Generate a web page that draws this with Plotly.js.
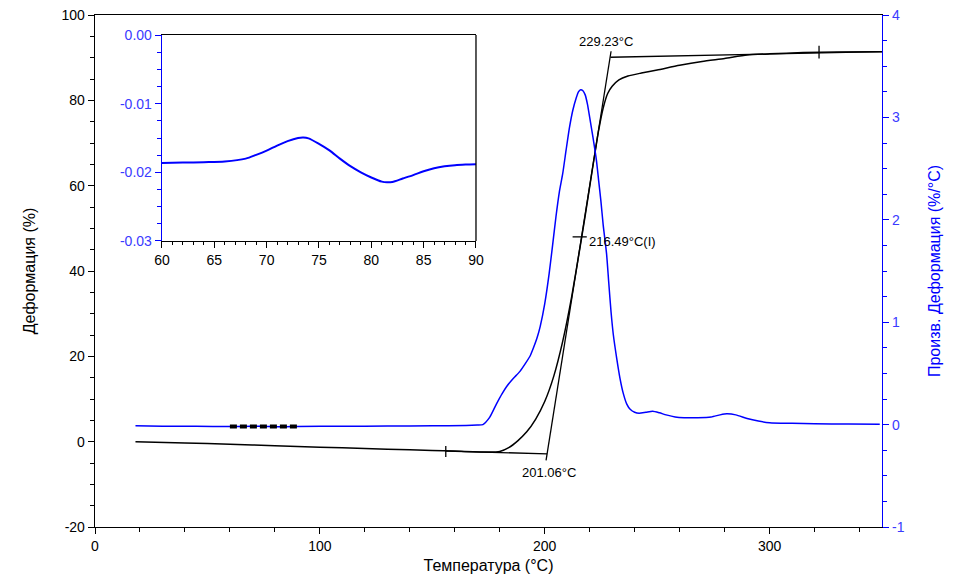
<!DOCTYPE html>
<html><head><meta charset="utf-8">
<script src="https://cdn.plot.ly/plotly-3.0.1.min.js"></script>
<style>html,body{margin:0;padding:0;background:#fff}#chart{width:972px;height:586px}</style>
</head><body><div id="chart"></div>
<script>
// Deformation (%) vs temperature (°C)
const temperature = [18, 40, 60, 80, 100, 120, 140, 160, 175, 180, 184, 188, 192, 196, 200, 204, 208, 212, 216, 218, 220, 222, 224, 226, 228, 230, 233, 237, 243, 250, 260, 270, 280, 290, 300, 315, 330, 350];
const deformation = [0, -0.3, -0.6, -0.95, -1.3, -1.6, -1.9, -2.2, -2.45, -2.3, -1.4, 0.2, 2.3, 5.3, 9.4, 15.3, 23.5, 34, 46.5, 53, 59.8, 66.5, 73, 78.2, 81.6, 83.3, 84.8, 85.7, 86.4, 87.1, 88.2, 89.1, 89.8, 90.6, 90.9, 91.2, 91.3, 91.4];

// Derivative of deformation (%/°C)
const derivTemp = [18, 30, 45, 60, 70, 73, 77, 81, 85, 90, 110, 130, 150, 165, 170, 172.5, 175.5, 178.5, 181, 183, 186, 189, 191.5, 193.5, 195, 196.5, 198, 200, 202, 203.5, 205, 206.5, 208, 209.5, 211, 212.5, 214, 215, 216, 217, 218, 219, 220, 221.5, 223, 224, 225, 226, 227.5, 228.5, 229.5, 230.5, 232, 233.5, 235, 236.5, 238, 240, 242, 245, 248, 251, 254, 258, 262, 268, 274, 278, 281, 285, 290, 295, 300, 310, 320, 335, 349];
const derivative = [-0.012, -0.015, -0.017, -0.0186, -0.0168, -0.015, -0.018, -0.0215, -0.0199, -0.0188, -0.016, -0.014, -0.012, -0.01, -0.005, 0.0, 0.07, 0.2, 0.3, 0.37, 0.45, 0.52, 0.6, 0.67, 0.75, 0.84, 0.96, 1.18, 1.48, 1.75, 2.03, 2.27, 2.45, 2.68, 2.9, 3.07, 3.19, 3.25, 3.27, 3.26, 3.22, 3.13, 3.0, 2.8, 2.58, 2.38, 2.18, 1.95, 1.67, 1.38, 1.1, 0.88, 0.65, 0.45, 0.3, 0.2, 0.15, 0.12, 0.11, 0.12, 0.13, 0.115, 0.095, 0.075, 0.068, 0.068, 0.075, 0.095, 0.105, 0.095, 0.06, 0.035, 0.018, 0.012, 0.008, 0.005, 0.003];

// Inset: derivative zoomed 60–90 °C
const insetTemp = [60, 62, 64, 66, 68, 69, 70, 71, 72, 73, 73.5, 74, 75, 76, 77, 78, 79, 80, 81, 81.5, 82, 83, 84, 85, 86, 87, 88, 89, 90];
const insetDeriv = [-0.01863, -0.01858, -0.01852, -0.01842, -0.0180, -0.01745, -0.01683, -0.0161, -0.01545, -0.01500, -0.01493, -0.01505, -0.01585, -0.0168, -0.0180, -0.0191, -0.0200, -0.02075, -0.02135, -0.02145, -0.0214, -0.0209, -0.0204, -0.01985, -0.0194, -0.01912, -0.01895, -0.01887, -0.01883];

// Onset / inflection / endset construction lines
const baseTangentT = [156, 201.06];
const baseTangentD = [-2.2, -2.85];
const inflTangentT = [200.6, 229.5];
const inflTangentD = [-4.4, 91.5];
const topTangentT = [229.23, 350];
const topTangentD = [90.1, 91.4];
const tickLeftT = [156, 156];
const tickLeftD = [-1.0, -3.6];
const tickRightT = [322, 322];
const tickRightD = [89.8, 92.8];
const crossT = [212.4, 218.7];
const crossD = [48.0, 48.0];

const onsetLabel = "201.06°C";
const inflLabel = "216.49°C(I)";
const endLabel = "229.23°C";

// Tick labels
const xTickVals = [0, 100, 200, 300];
const xTickText = ["0", "100", "200", "300"];
const yTickVals = [-20, 0, 20, 40, 60, 80, 100];
const yTickText = ["-20", "0", "20", "40", "60", "80", "100"];
const y2TickVals = [-1, 0, 1, 2, 3, 4];
const y2TickText = ["-1", "0", "1", "2", "3", "4"];
const x3TickVals = [60, 65, 70, 75, 80, 85, 90];
const x3TickText = ["60", "65", "70", "75", "80", "85", "90"];
const y3TickVals = [0, -0.01, -0.02, -0.03];
const y3TickText = ["0.00", "-0.01", "-0.02", "-0.03"];

const BLUE = '#0000ff';
const BLUE_TXT = '#3a3aff';
const FONT = 'Liberation Sans, Arial, sans-serif';

const blackLine = {color: '#000', width: 1.3};
const traces = [
  {x: derivTemp, y: derivative, xaxis: 'x', yaxis: 'y2', mode: 'lines', line: {color: BLUE, width: 1.5, shape: 'spline', smoothing: 0.6}},
  {x: insetTemp, y: insetDeriv, xaxis: 'x', yaxis: 'y2', mode: 'lines', line: {color: '#000', width: 4, dash: '7px,3px'}},
  {x: temperature, y: deformation, xaxis: 'x', yaxis: 'y', mode: 'lines', line: {color: '#000', width: 1.5, shape: 'spline', smoothing: 0.6}},
  {x: baseTangentT, y: baseTangentD, xaxis: 'x', yaxis: 'y', mode: 'lines', line: blackLine},
  {x: inflTangentT, y: inflTangentD, xaxis: 'x', yaxis: 'y', mode: 'lines', line: blackLine},
  {x: topTangentT, y: topTangentD, xaxis: 'x', yaxis: 'y', mode: 'lines', line: blackLine},
  {x: tickLeftT, y: tickLeftD, xaxis: 'x', yaxis: 'y', mode: 'lines', line: blackLine},
  {x: tickRightT, y: tickRightD, xaxis: 'x', yaxis: 'y', mode: 'lines', line: blackLine},
  {x: crossT, y: crossD, xaxis: 'x', yaxis: 'y', mode: 'lines', line: blackLine},
  {x: insetTemp, y: insetDeriv, xaxis: 'x3', yaxis: 'y3', mode: 'lines', line: {color: BLUE, width: 2, shape: 'spline', smoothing: 0.8}}
];

const layout = {
  width: 972, height: 586,
  margin: {l: 95, r: 90, t: 15, b: 59},
  paper_bgcolor: '#fff', plot_bgcolor: '#fff',
  showlegend: false,
  font: {family: FONT, size: 14, color: '#000'},
  xaxis: {
    domain: [0, 1], range: [0, 350], anchor: 'y',
    tickmode: 'array', tickvals: xTickVals, ticktext: xTickText,
    ticks: 'outside', ticklen: 6, tickcolor: '#000', tickwidth: 1,
    minor: {tickmode: 'linear', tick0: 0, dtick: 20, ticks: 'outside', ticklen: 4, tickcolor: '#000'},
    showline: true, linecolor: '#000', linewidth: 1.3, mirror: true,
    showgrid: false, zeroline: false,
    tickfont: {size: 14, color: '#000'},
    title: {text: 'Температура (°C)', font: {size: 16, color: '#000'}, standoff: 6}
  },
  yaxis: {
    range: [-20, 100], anchor: 'x',
    tickmode: 'array', tickvals: yTickVals, ticktext: yTickText,
    ticks: 'outside', ticklen: 6, tickcolor: '#000',
    minor: {tickmode: 'linear', tick0: 0, dtick: 5, ticks: 'outside', ticklen: 4, tickcolor: '#000'},
    showline: true, linecolor: '#000', linewidth: 1.3,
    showgrid: false, zeroline: false,
    tickfont: {size: 14, color: '#000'},
    title: {text: 'Деформация (%)', font: {size: 16, color: '#000'}, standoff: 22}
  },
  yaxis2: {
    range: [-1, 4], overlaying: 'y', side: 'right', anchor: 'x',
    tickmode: 'array', tickvals: y2TickVals, ticktext: y2TickText,
    ticks: 'outside', ticklen: 6, tickcolor: BLUE,
    minor: {tickmode: 'linear', tick0: 0, dtick: 0.25, ticks: 'outside', ticklen: 4, tickcolor: BLUE},
    showline: true, linecolor: BLUE, linewidth: 1.3,
    showgrid: false, zeroline: false,
    tickfont: {size: 14, color: BLUE_TXT},
    title: {text: 'Произв. Деформация (%/°C)', font: {size: 16, color: BLUE}, standoff: 25}
  },
  xaxis3: {
    domain: [0.0851, 0.4841], range: [60, 90], anchor: 'y3',
    tickmode: 'array', tickvals: x3TickVals, ticktext: x3TickText,
    ticks: 'outside', ticklen: 6, tickcolor: '#000',
    minor: {tickmode: 'linear', tick0: 60, dtick: 1, ticks: 'outside', ticklen: 3, tickcolor: '#000'},
    showline: true, linecolor: '#000', linewidth: 1.3, mirror: true,
    showgrid: false, zeroline: false,
    tickfont: {size: 14, color: '#000'}
  },
  yaxis3: {
    domain: [0.5586, 0.9609], range: [-0.03, 0], anchor: 'x3',
    tickmode: 'array', tickvals: y3TickVals, ticktext: y3TickText,
    ticks: 'outside', ticklen: 6, tickcolor: BLUE,
    minor: {tickmode: 'linear', tick0: 0, dtick: 0.0025, ticks: 'outside', ticklen: 4, tickcolor: BLUE},
    showline: true, linecolor: BLUE, linewidth: 1.3,
    showgrid: false, zeroline: false,
    tickfont: {size: 14, color: BLUE_TXT}
  },
  shapes: [
    {type: 'line', xref: 'x3 domain', yref: 'y3 domain', x0: 1, x1: 1, y0: 0, y1: 1, line: {color: '#000', width: 1.3}}
  ],
  annotations: [
    {x: 227.1, y: 93.8, xref: 'x', yref: 'y', text: endLabel, showarrow: false, xanchor: 'center', yanchor: 'middle', font: {size: 13, color: '#000'}},
    {x: 219.0, y: 47.0, xref: 'x', yref: 'y', text: inflLabel, showarrow: false, xanchor: 'left', yanchor: 'middle', font: {size: 13, color: '#000'}},
    {x: 202.1, y: -7.2, xref: 'x', yref: 'y', text: onsetLabel, showarrow: false, xanchor: 'center', yanchor: 'middle', font: {size: 13, color: '#000'}}
  ]
};

Plotly.newPlot('chart', traces, layout, {displayModeBar: false, staticPlot: true});
</script>
</body></html>
